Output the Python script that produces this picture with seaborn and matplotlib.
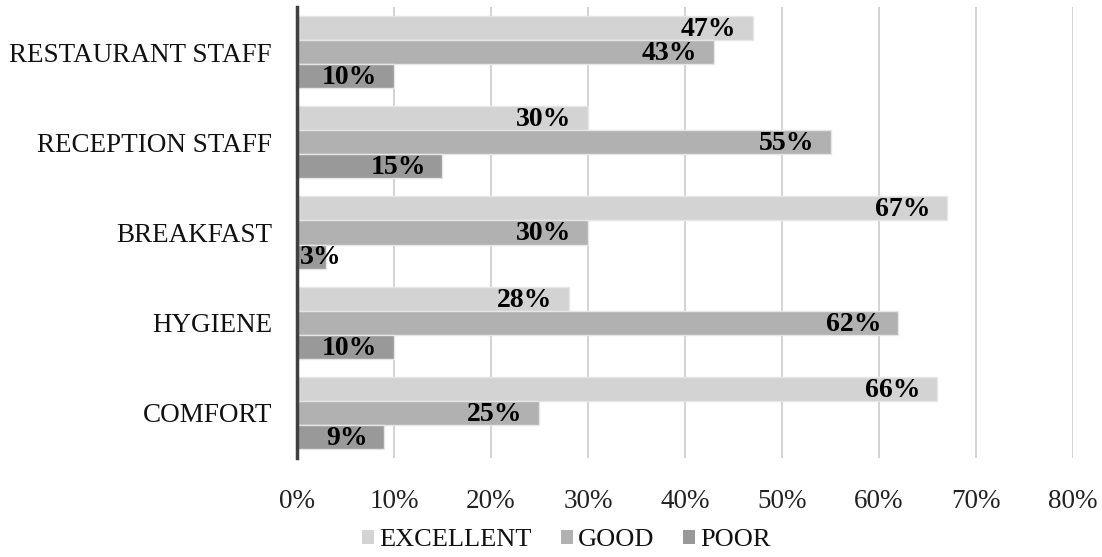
import matplotlib
matplotlib.use("Agg")
import matplotlib.pyplot as plt
import seaborn as sns
import pandas as pd
from matplotlib.ticker import FuncFormatter

categories = ["RESTAURANT STAFF", "RECEPTION STAFF", "BREAKFAST", "HYGIENE", "COMFORT"]
excellent = [47, 30, 67, 28, 66]
good = [43, 55, 30, 62, 25]
poor = [10, 15, 3, 10, 9]
ratings = ["EXCELLENT", "GOOD", "POOR"]
colors = ["#d3d3d3", "#b1b1b1", "#999999"]

df = pd.DataFrame({
    "aspect": categories * 3,
    "rating": [r for r in ratings for _ in categories],
    "share": excellent + good + poor,
})

sns.set_theme(style="white")
plt.rcParams["font.family"] = ["Liberation Serif", "DejaVu Serif"]

fig = plt.figure(figsize=(11.02, 5.57), dpi=100)
ax = fig.add_axes([0.2695, 0.1777, 0.7042, 0.8097])

sns.barplot(data=df, y="aspect", x="share", hue="rating", order=categories,
            hue_order=ratings, palette=colors, orient="h", width=0.8,
            edgecolor="#e6e6e6", linewidth=1.0, ax=ax, zorder=3, legend=True)

ax.set_xlim(0, 80)
ax.set_ylim(4.5, -0.5)

# value labels: right-aligned just inside the bar end, kept clear of the axis
for cont in ax.containers:
    for bar, v in zip(cont, cont.datavalues):
        yc = bar.get_y() + bar.get_height() / 2
        if v >= 6:
            ax.annotate(f"{v:.0f}%", xy=(v, yc), xytext=(-12, -1),
                        textcoords="offset points", ha="right", va="center",
                        fontsize=20, fontweight="bold", color="black", zorder=5)
        else:
            ax.annotate(f"{v:.0f}%", xy=(0, yc), xytext=(2, -1),
                        textcoords="offset points", ha="left", va="center",
                        fontsize=20, fontweight="bold", color="black", zorder=5)

ax.set_xticks(range(0, 81, 10))
ax.xaxis.set_major_formatter(FuncFormatter(lambda v, p: f"{v:.0f}%"))
ax.grid(axis="x", color="#d0d0d0", linewidth=1.3, zorder=0)
ax.set_axisbelow(True)
ax.set_xlabel("")
ax.set_ylabel("")
ax.tick_params(axis="x", length=0, pad=22, labelsize=19.5, labelcolor="#222222")
ax.tick_params(axis="y", length=0, pad=18, labelsize=19.5, labelcolor="#111111")
for s in ["top", "right", "bottom"]:
    ax.spines[s].set_visible(False)
ax.spines["left"].set_color("#404040")
ax.spines["left"].set_linewidth(2.5)
ax.spines["left"].set_zorder(6)

handles, labels = ax.get_legend_handles_labels()
ax.get_legend().remove()
leg = fig.legend(handles, labels, loc="center", bbox_to_anchor=(0.514, 0.03),
                 ncol=3, frameon=False, fontsize=19, handlelength=0.45,
                 handleheight=0.45, handletextpad=0.2, columnspacing=1.1,
                 labelcolor="#111111", borderpad=0.1)
for h in leg.legend_handles:
    h.set_edgecolor("none")

fig.savefig("out.png", dpi=100)
